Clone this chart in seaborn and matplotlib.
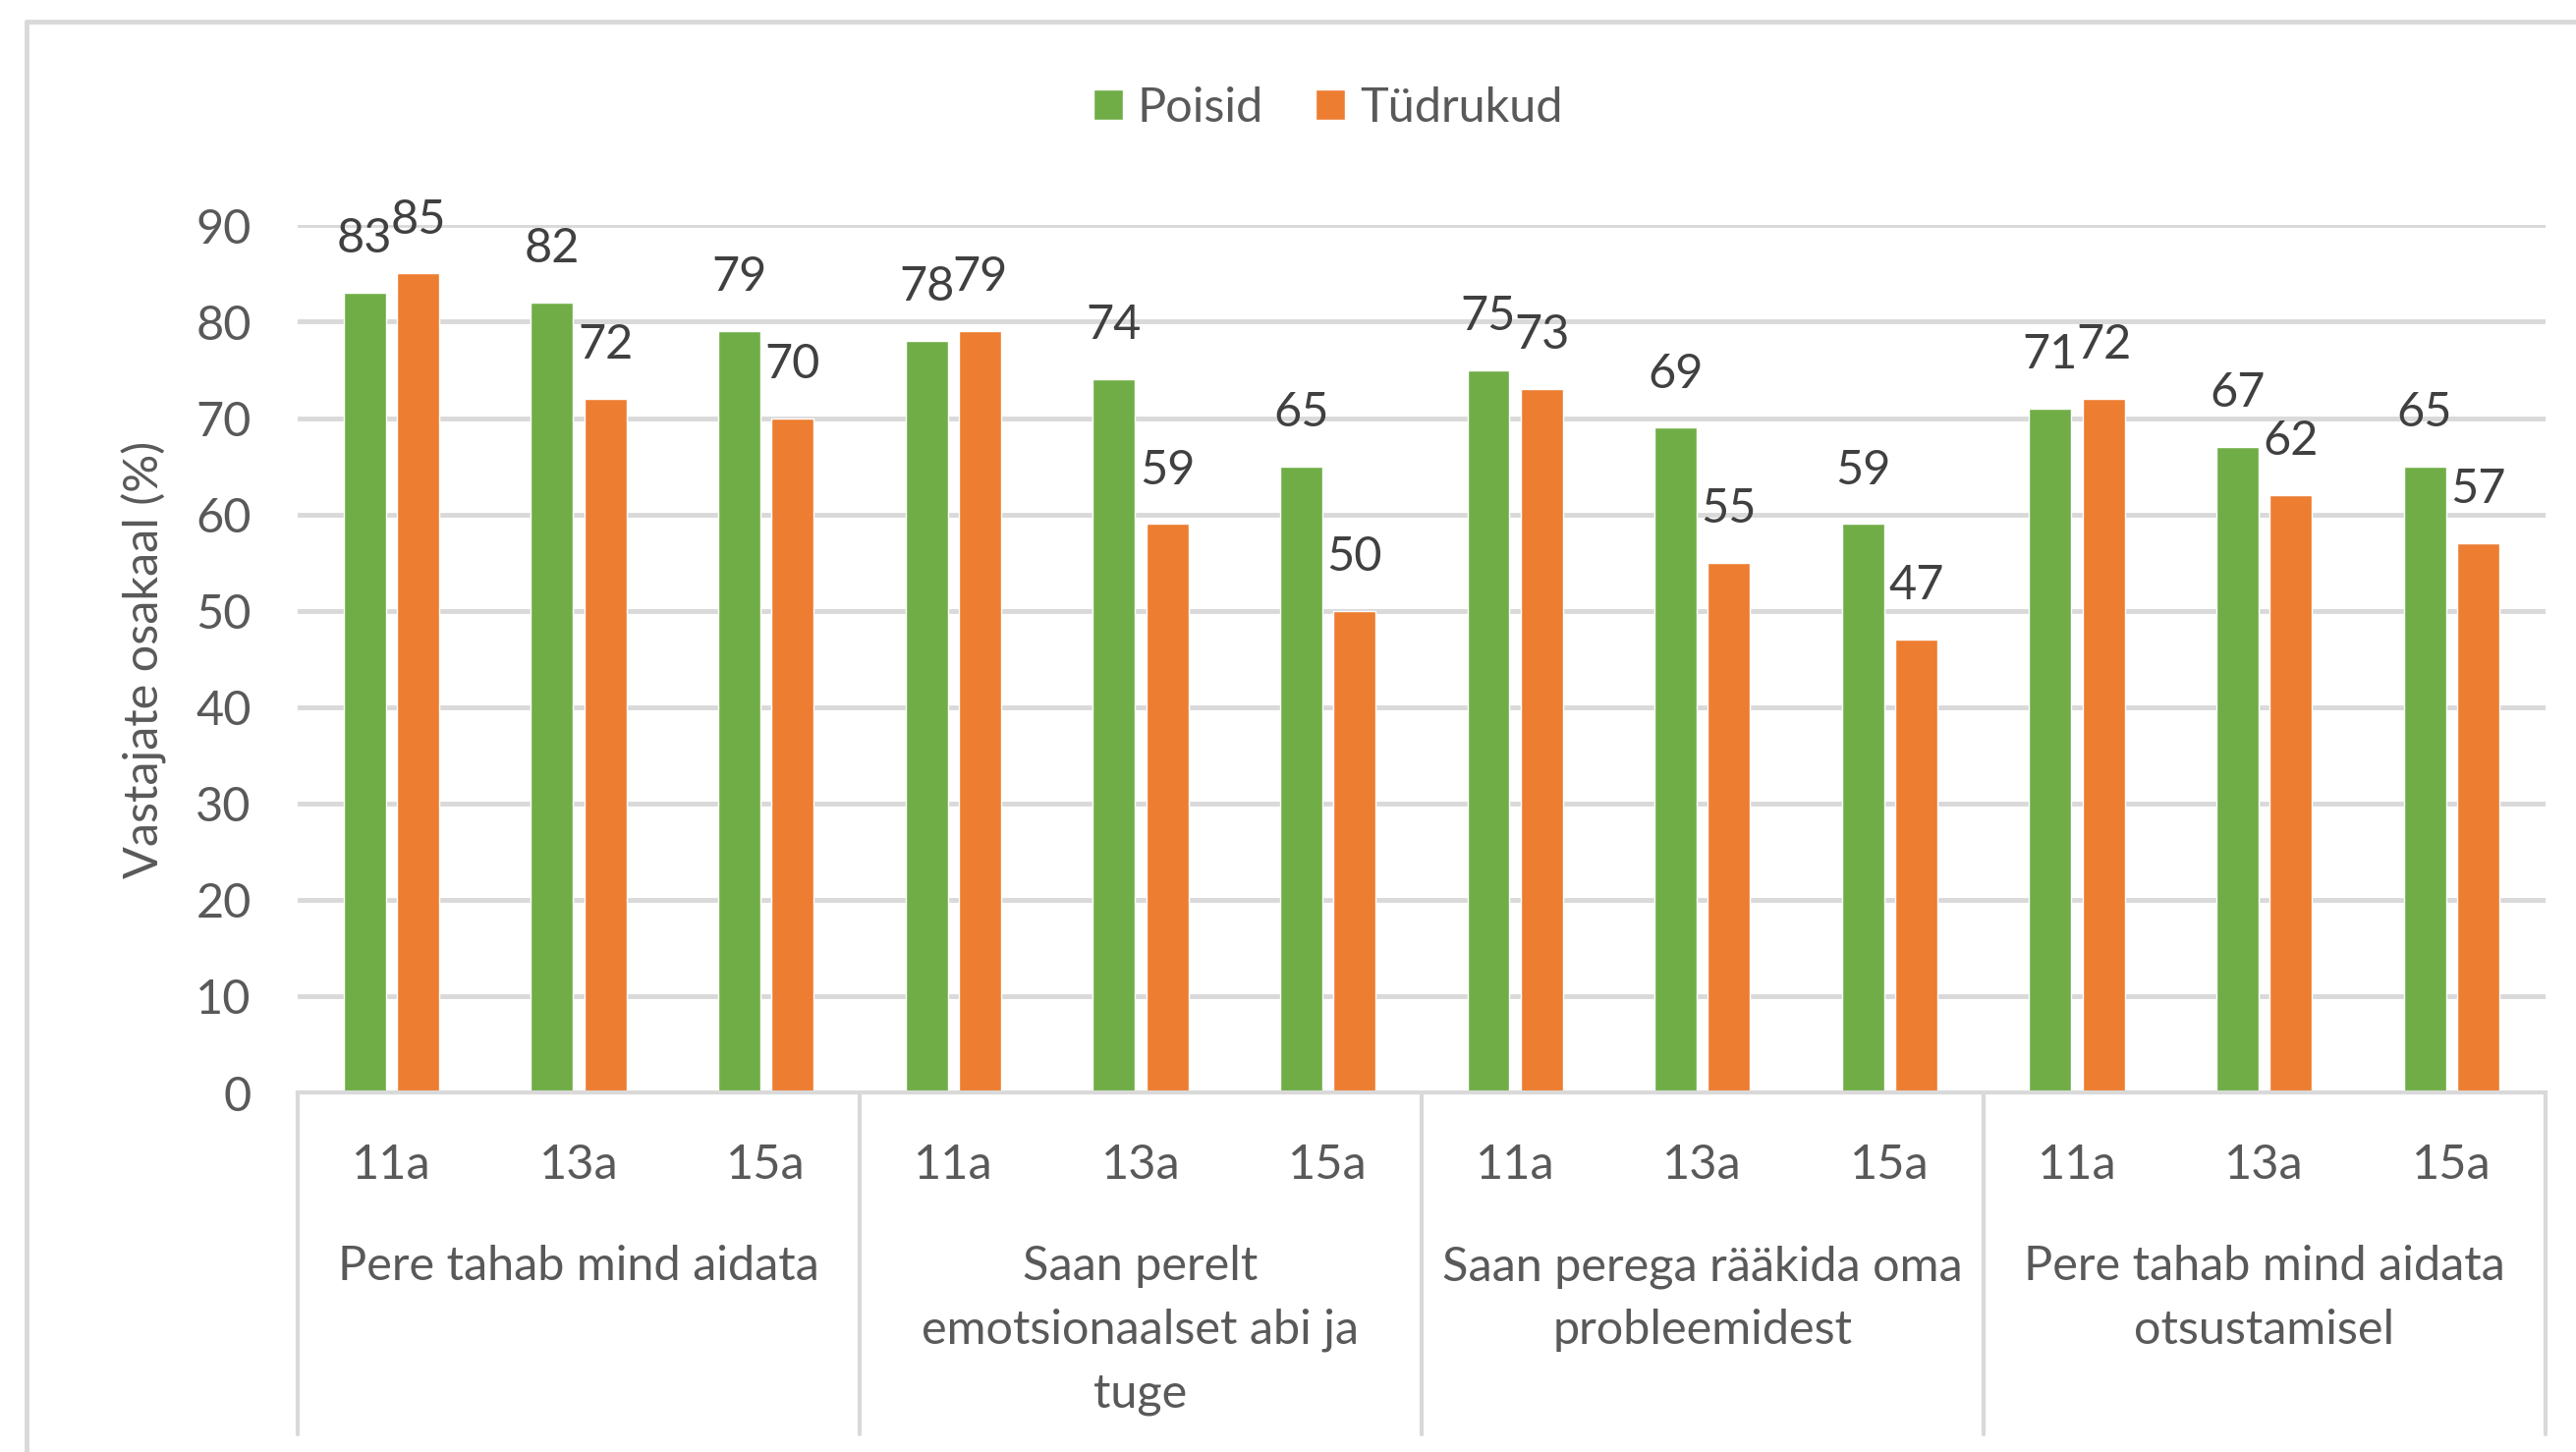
import matplotlib
matplotlib.use("Agg")
import matplotlib.pyplot as plt
import matplotlib.transforms as mtransforms
from matplotlib.lines import Line2D
from matplotlib.patches import Patch
import seaborn as sns
import pandas as pd

groups = [
    "Pere tahab mind aidata",
    "Saan perelt\nemotsionaalset abi ja\ntuge",
    "Saan perega rääkida oma\nprobleemidest",
    "Pere tahab mind aidata\notsustamisel",
]
ages = ["11a", "13a", "15a"]
series = ["Poisid", "Tüdrukud"]
poisid = [83, 82, 79, 78, 74, 65, 75, 69, 59, 71, 67, 65]
tydrukud = [85, 72, 70, 79, 59, 50, 73, 55, 47, 72, 62, 57]
colors = ["#70AD47", "#ED7D31"]

keys = [f"{g}|{a}" for g in groups for a in ages]
df = pd.DataFrame({
    "key": keys * 2,
    "value": poisid + tydrukud,
    "sex": [series[0]] * len(keys) + [series[1]] * len(keys),
})

sns.set_style("white")
plt.rcParams["font.family"] = ["Lato", "DejaVu Sans"]

fs = 35
tick_col = "#595959"
grid_col = "#D9D9D9"

fig = plt.figure(figsize=(26.22, 14.785), dpi=100)
ax = fig.add_axes([0.1156, 0.2475, 0.988 - 0.1156, 0.8445 - 0.2475])

sns.barplot(data=df, x="key", y="value", hue="sex", order=keys, hue_order=series,
            palette=colors, saturation=1, width=0.57, gap=0.21, errorbar=None,
            legend=False, ax=ax)

for cont in ax.containers:
    ax.bar_label(cont, fmt="%d", padding=24, fontsize=fs, color="#404040")

ax.set_ylim(0, 90)
ax.set_yticks(range(0, 91, 10))
ax.set_xlim(-0.5, len(keys) - 0.5)
ax.set_xticks(range(len(keys)))
ax.set_xticklabels(ages * len(groups))
ax.set_xlabel("")
ax.set_ylabel("")
ax.tick_params(axis="y", length=0, pad=34, labelsize=fs, labelcolor=tick_col)
ax.tick_params(axis="x", length=0, pad=37, labelsize=fs, labelcolor=tick_col)
ax.yaxis.grid(True, color=grid_col, lw=3.5)
ax.set_axisbelow(True)
for s in ["top", "right", "left"]:
    ax.spines[s].set_visible(False)
ax.spines["bottom"].set_color(grid_col)
ax.spines["bottom"].set_linewidth(3)

# group labels and separators under the axis
tr = mtransforms.blended_transform_factory(ax.transData, fig.transFigure)
for i, g in enumerate(groups):
    ax.text(i * 3 + 1, 0.143, g, transform=tr, ha="center", va="top",
            fontsize=fs, color=tick_col, linespacing=1.57)
for xs in [-0.5, 2.5, 5.5, 8.5, 11.5]:
    fig.add_artist(Line2D([xs, xs], [0.2475, 0.012], transform=tr,
                          color=grid_col, lw=3, clip_on=False))

fig.text(0.056, 0.546, "Vastajate osakaal (%)", rotation=90, ha="center",
         va="center", fontsize=fs, color=tick_col)

handles = [Patch(facecolor=c, label=s) for c, s in zip(colors, series)]
fig.legend(handles=handles, loc="center", bbox_to_anchor=(0.5155, 0.9256), ncol=2,
           frameon=False, fontsize=fs, labelcolor=tick_col, handlelength=0.62,
           handleheight=0.62, handletextpad=0.3, columnspacing=1.1)

# chart area border (only top and left visible in crop)
fig.add_artist(Line2D([0.0103, 0.0103], [0.0, 0.985], transform=fig.transFigure,
                      color=grid_col, lw=3.5))
fig.add_artist(Line2D([0.0103, 1.0], [0.985, 0.985], transform=fig.transFigure,
                      color=grid_col, lw=3.5))

fig.savefig("out.png", dpi=100, facecolor="white")
